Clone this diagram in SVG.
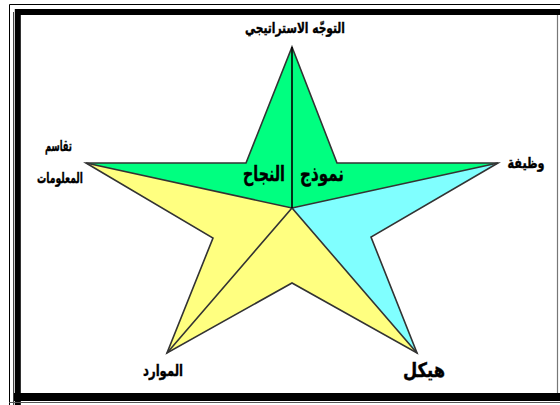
<svg xmlns="http://www.w3.org/2000/svg" width="560" height="405" viewBox="0 0 560 405">
<style>
.edge{fill:none;stroke:#333;stroke-width:1.6;stroke-linejoin:miter}
.lbl{font-family:"DejaVu Sans",sans-serif;font-weight:bold;fill:#000;stroke:#000;stroke-width:0.4;text-anchor:middle}
</style>
<rect width="560" height="405" fill="#fff"/>
<g id="frame" fill="none">
<path d="M9.5,405 V4.5 H560" stroke="#000" stroke-width="1"/>
<path d="M13.5,405 V12" stroke="#444" stroke-width="1"/>
<path d="M17.8,405 V12 H560" stroke="#000" stroke-width="6"/>
<path d="M14,397 H560" stroke="#000" stroke-width="8"/>
<path d="M9,402.5 H560" stroke="#555" stroke-width="1"/>
<path d="M557.5,15 V393" stroke="#777" stroke-width="1.2"/>
</g>
<g id="star">
<polygon id="green" points="292,47 337,163 498,163 292,208 86,163 246,163" fill="#00ff80"/>
<polygon id="cyan" points="292,208 498,163 371,237 417,353" fill="#80ffff"/>
<polygon id="yellow" points="292,208 417,353 292,283 167,353 213,238 86,163" fill="#ffff80"/>
</g>
<g id="connectors">
<polygon class="edge" points="292,47 337,163 498,163 371,237 417,353 292,283 167,353 213,238 86,163 246,163"/>
<path class="edge" d="M86,163 L292,208 L498,163 M167,353 L292,208 L417,353"/>
<path d="M292,47 V208" stroke="#000" stroke-width="1.6"/>
</g>
<g id="labels">
<text class="lbl" x="295" y="33" font-size="15" textLength="100" lengthAdjust="spacingAndGlyphs">التوجّه الاستراتيجي</text>
<text class="lbl" x="58.5" y="151" font-size="15" textLength="27" lengthAdjust="spacingAndGlyphs">تقاسم</text>
<text class="lbl" x="60" y="183" font-size="15" textLength="46" lengthAdjust="spacingAndGlyphs">المعلومات</text>
<text class="lbl" x="526" y="168" font-size="15" textLength="37" lengthAdjust="spacingAndGlyphs">وظيفة</text>
<text class="lbl" x="163" y="376" font-size="16" textLength="40" lengthAdjust="spacingAndGlyphs">الموارد</text>
<text class="lbl" x="424" y="377" font-size="20" textLength="42" lengthAdjust="spacingAndGlyphs">هيكل</text>
<text class="lbl" x="322" y="181" font-size="21" textLength="44" lengthAdjust="spacingAndGlyphs">نموذج</text>
<text class="lbl" x="264" y="181" font-size="21" textLength="42" lengthAdjust="spacingAndGlyphs">النجاح</text>
</g>
</svg>
